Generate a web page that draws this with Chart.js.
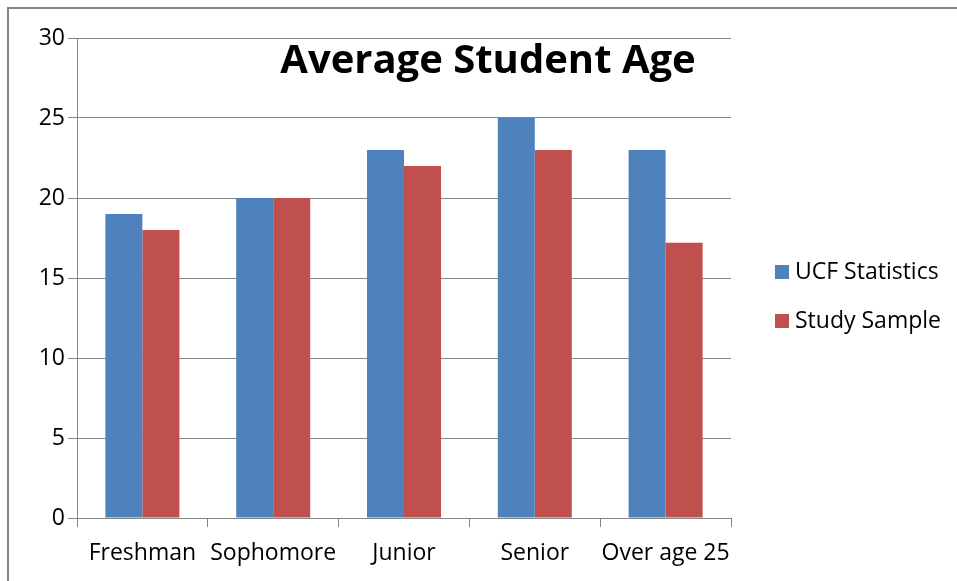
<!DOCTYPE html>
<html><head><meta charset="utf-8">
<script src="https://cdn.jsdelivr.net/npm/chart.js@4/dist/chart.umd.min.js"></script>
<style>html,body{margin:0;padding:0;background:#fff;}canvas{display:block;}</style>
</head><body>
<canvas id="c" width="957" height="581"></canvas>
<script>
const categories = ["Freshman", "Sophomore", "Junior", "Senior", "Over age 25"];
const ucfStatistics = [19, 20, 23, 25, 23];
const studySample = [18, 20, 22, 23, 17.2];
const seriesNames = ["UCF Statistics", "Study Sample"];
const seriesColors = ["#4F81BD", "#C0504D"];
const chartTitle = "Average Student Age";
const yMin = 0, yMax = 30, yStep = 5;

const FONT = "'Open Sans', 'DejaVu Sans', sans-serif";
const GRID = "#868686";

const framePlugin = {
  id: 'frame',
  beforeDraw(chart) {
    const ctx = chart.ctx;
    ctx.save();
    ctx.fillStyle = '#fff';
    ctx.fillRect(0, 0, chart.width, chart.height);
    ctx.strokeStyle = GRID;
    ctx.lineWidth = 2;
    ctx.beginPath();
    ctx.moveTo(8, chart.height);
    ctx.lineTo(8, 8);
    ctx.lineTo(chart.width, 8);
    ctx.stroke();
    ctx.restore();
  }
};

const titleLegendPlugin = {
  id: 'titleLegend',
  afterDraw(chart) {
    const ctx = chart.ctx;
    ctx.save();
    ctx.fillStyle = '#000';
    ctx.font = "bold 40px " + FONT;
    ctx.textAlign = 'center';
    ctx.textBaseline = 'middle';
    ctx.fillText(chartTitle, 488, 62);
    ctx.font = "23px " + FONT;
    ctx.textAlign = 'left';
    chart.data.datasets.forEach((ds, i) => {
      const cy = 272 + i * 49;
      ctx.fillStyle = ds.backgroundColor;
      ctx.fillRect(775, cy - 7, 14, 14);
      ctx.fillStyle = '#000';
      ctx.fillText(ds.label, 795, cy);
    });
    ctx.restore();
  }
};

new Chart(document.getElementById('c'), {
  type: 'bar',
  data: {
    labels: categories,
    datasets: [
      { label: seriesNames[0], data: ucfStatistics, backgroundColor: seriesColors[0] },
      { label: seriesNames[1], data: studySample, backgroundColor: seriesColors[1] }
    ]
  },
  options: {
    responsive: false,
    animation: false,
    devicePixelRatio: 1,
    categoryPercentage: 0.566,
    barPercentage: 1.0,
    layout: { padding: { left: 0, top: 38, right: 226, bottom: 0 } },
    plugins: { legend: { display: false }, tooltip: { enabled: false }, title: { display: false } },
    scales: {
      x: {
        offset: true,
        grid: { drawOnChartArea: false, drawTicks: true, tickLength: 9, color: GRID, offset: true },
        border: { display: true, color: GRID },
        ticks: { color: '#000', font: { family: FONT, size: 23 }, padding: 13, autoSkip: false, maxRotation: 0 },
        afterFit(s) { s.height = 63; }
      },
      y: {
        min: yMin, max: yMax,
        grid: { color: GRID, tickLength: 9, drawTicks: true },
        border: { display: true, color: GRID },
        ticks: { stepSize: yStep, color: '#000', font: { family: FONT, size: 23 }, padding: 3 },
        afterFit(s) { s.width = 77; }
      }
    }
  },
  plugins: [framePlugin, titleLegendPlugin]
});
</script>
</body></html>
